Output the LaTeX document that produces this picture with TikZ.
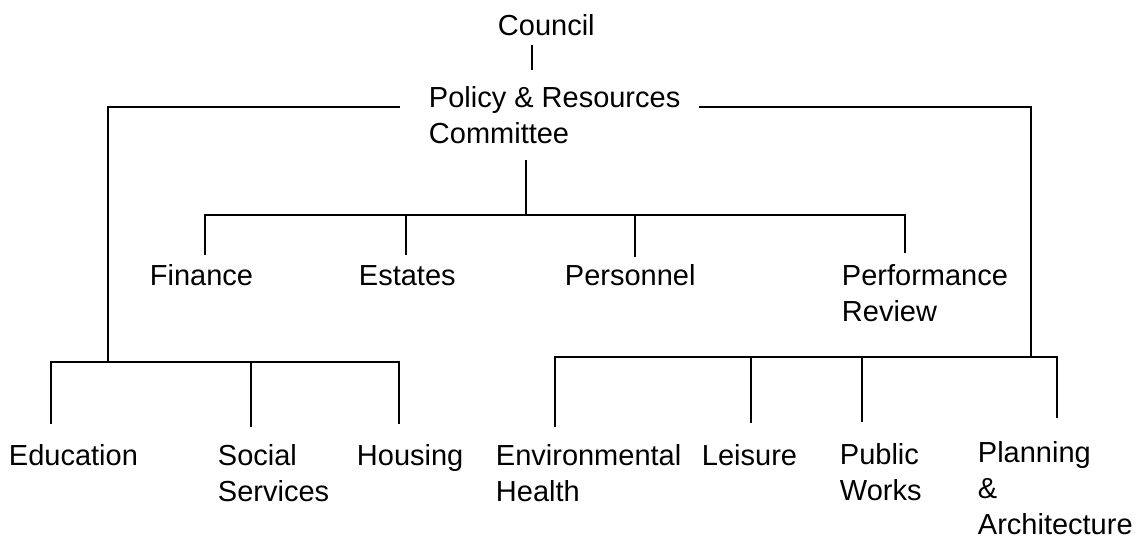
\documentclass[tikz,border=0pt]{standalone}
\usepackage{fontspec}
\setmainfont{Liberation Sans}
\begin{document}
\begin{tikzpicture}[x=0.02cm, y=-0.02cm, line width=1.1pt,
  every node/.style={anchor=base west, inner sep=0pt, align=left, font=\fontsize{16.5}{20.3}\selectfont}]
  \useasboundingbox (0,0) rectangle (1140,538);

  % Main nodes (base = baseline of the last line)
  \node (council) at (497,35) {Council};
  \node (policy) at (428,143) {Policy \& Resources\\Committee};

  % Sub-committees
  \node (finance) at (149,285) {Finance};
  \node (estates) at (358,285) {Estates};
  \node (personnel) at (564,285) {Personnel};
  \node (review) at (841,321) {Performance\\Review};

  % Service committees
  \node (education) at (8,465) {Education};
  \node (social) at (217,501) {Social\\Services};
  \node (housing) at (356,465) {Housing};
  \node (health) at (495,501) {Environmental\\Health};
  \node (leisure) at (701,465) {Leisure};
  \node (works) at (839,500) {Public\\Works};
  \node (planning) at (977,534) {Planning\\\&\\Architecture};

  % Junctions
  \coordinate (councilB) at (532,45);
  \coordinate (policyT) at (532,70);
  \coordinate (policyL) at (400,107);
  \coordinate (policyR) at (699,107);
  \coordinate (policyB) at (526,160);
  \coordinate (subbar) at (526,215);
  \coordinate (leftbar) at (108,362);
  \coordinate (rightbar) at (1031,357);

  % Edges - council to policy
  \draw (councilB) -- (policyT);

  % Edges - sub-committees
  \draw (policyB) -- (subbar);
  \draw (205,255) |- (subbar) -| (905,253);
  \draw (406,215) -- (406,255);
  \draw (635,215) -- (635,257);

  % Edges - left branch
  \draw (policyL) -| (leftbar);
  \draw (51,424) |- (leftbar) -| (399,424);
  \draw (251,362) -- (251,427);

  % Edges - right branch
  \draw (policyR) -| (rightbar);
  \draw (555,427) |- (rightbar) -| (1057,418);
  \draw (751,357) -- (751,423);
  \draw (862,357) -- (862,422);
\end{tikzpicture}
\end{document}
